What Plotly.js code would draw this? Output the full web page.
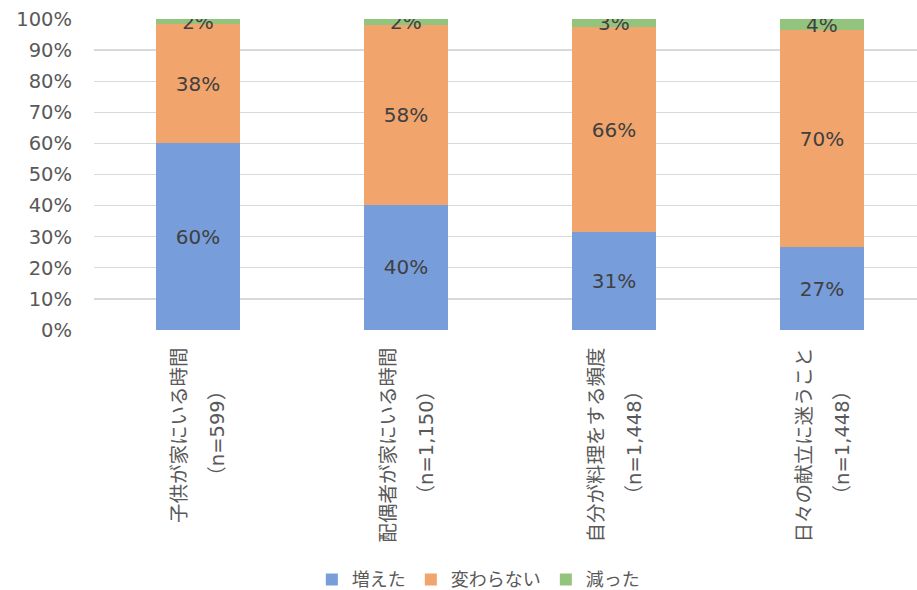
<!DOCTYPE html>
<html>
<head>
<meta charset="utf-8">
<script src="https://cdn.plot.ly/plotly-3.0.1.min.js"></script>
<style>html,body{margin:0;padding:0;background:#fff;overflow:hidden}</style>
</head>
<body>
<div id="chart" style="width:917px;height:590px"></div>
<script>
const categories = ['子供が家にいる時間', '配偶者が家にいる時間', '自分が料理をする頻度', '日々の献立に迷うこと'];
const sampleSizes = ['（n=599）', '（n=1,150）', '（n=1,448）', '（n=1,448）'];
const seriesNames = ['増えた', '変わらない', '減った'];
const increased = [60.1, 40.2, 31.4, 26.6];
const unchanged = [38.2, 58.0, 66.0, 69.8];
const decreased = [1.7, 1.8, 2.6, 3.6];
const yTicks = [0, 10, 20, 30, 40, 50, 60, 70, 80, 90, 100];

const colors = ['#779ddb', '#f1a46c', '#93c47d'];
const numFont = '"DejaVu Sans", "Noto Sans CJK JP", sans-serif';
const jpFont = '"Noto Sans CJK JP", "DejaVu Sans", sans-serif';
const seriesValues = [increased, unchanged, decreased];

const traces = seriesValues.map((vals, i) => ({
  type: 'bar',
  name: seriesNames[i],
  x: categories,
  y: vals,
  marker: {color: colors[i]},
  texttemplate: '%{y:.0f}%',
  textposition: 'inside',
  insidetextanchor: 'middle',
  constraintext: 'none',
  textfont: {family: numFont, size: 20, color: '#404040'},
  hoverinfo: 'none'
}));

const labelTopY = -0.048;
const charPx = 19.5;
const annotations = [];
categories.forEach((c, i) => {
  annotations.push({
    x: c, xref: 'x', y: labelTopY, yref: 'paper', text: c, showarrow: false,
    textangle: -90, xanchor: 'center', yanchor: 'top', xshift: -20,
    font: {family: jpFont, size: 19.5, color: '#595959'}
  });
  annotations.push({
    x: c, xref: 'x', y: labelTopY - (c.length * charPx / 2) / 311, yref: 'paper',
    text: sampleSizes[i], showarrow: false,
    textangle: -90, xanchor: 'center', yanchor: 'middle', xshift: 20,
    font: {family: numFont, size: 19.5, color: '#595959'}
  });
});

const layout = {
  width: 917, height: 590,
  margin: {l: 94, r: 0, t: 19, b: 260, autoexpand: false},
  paper_bgcolor: '#fff', plot_bgcolor: '#fff',
  barmode: 'stack',
  bargap: 0.6,
  showlegend: true,
  legend: {
    orientation: 'h', x: 0.467, xanchor: 'center', y: -0.803, yanchor: 'middle',
    font: {family: jpFont, size: 18, color: '#595959'},
    traceorder: 'normal', itemclick: false, itemwidth: 30
  },
  xaxis: {
    type: 'category', range: [-0.5, 3.457], showticklabels: false,
    showgrid: false, zeroline: false, showline: false, fixedrange: true
  },
  yaxis: {
    range: [0, 100], tickvals: yTicks, ticktext: yTicks.map(v => v + '%'),
    showgrid: true, gridcolor: '#d9d9d9', gridwidth: 1.4,
    zeroline: false, showline: false, ticks: '', ticklabelstandoff: 21,
    tickfont: {family: numFont, size: 19.5, color: '#595959'}, fixedrange: true
  },
  annotations: annotations,
  font: {family: jpFont}
};

Plotly.newPlot('chart', traces, layout, {displayModeBar: false, staticPlot: true});
</script>
</body>
</html>
